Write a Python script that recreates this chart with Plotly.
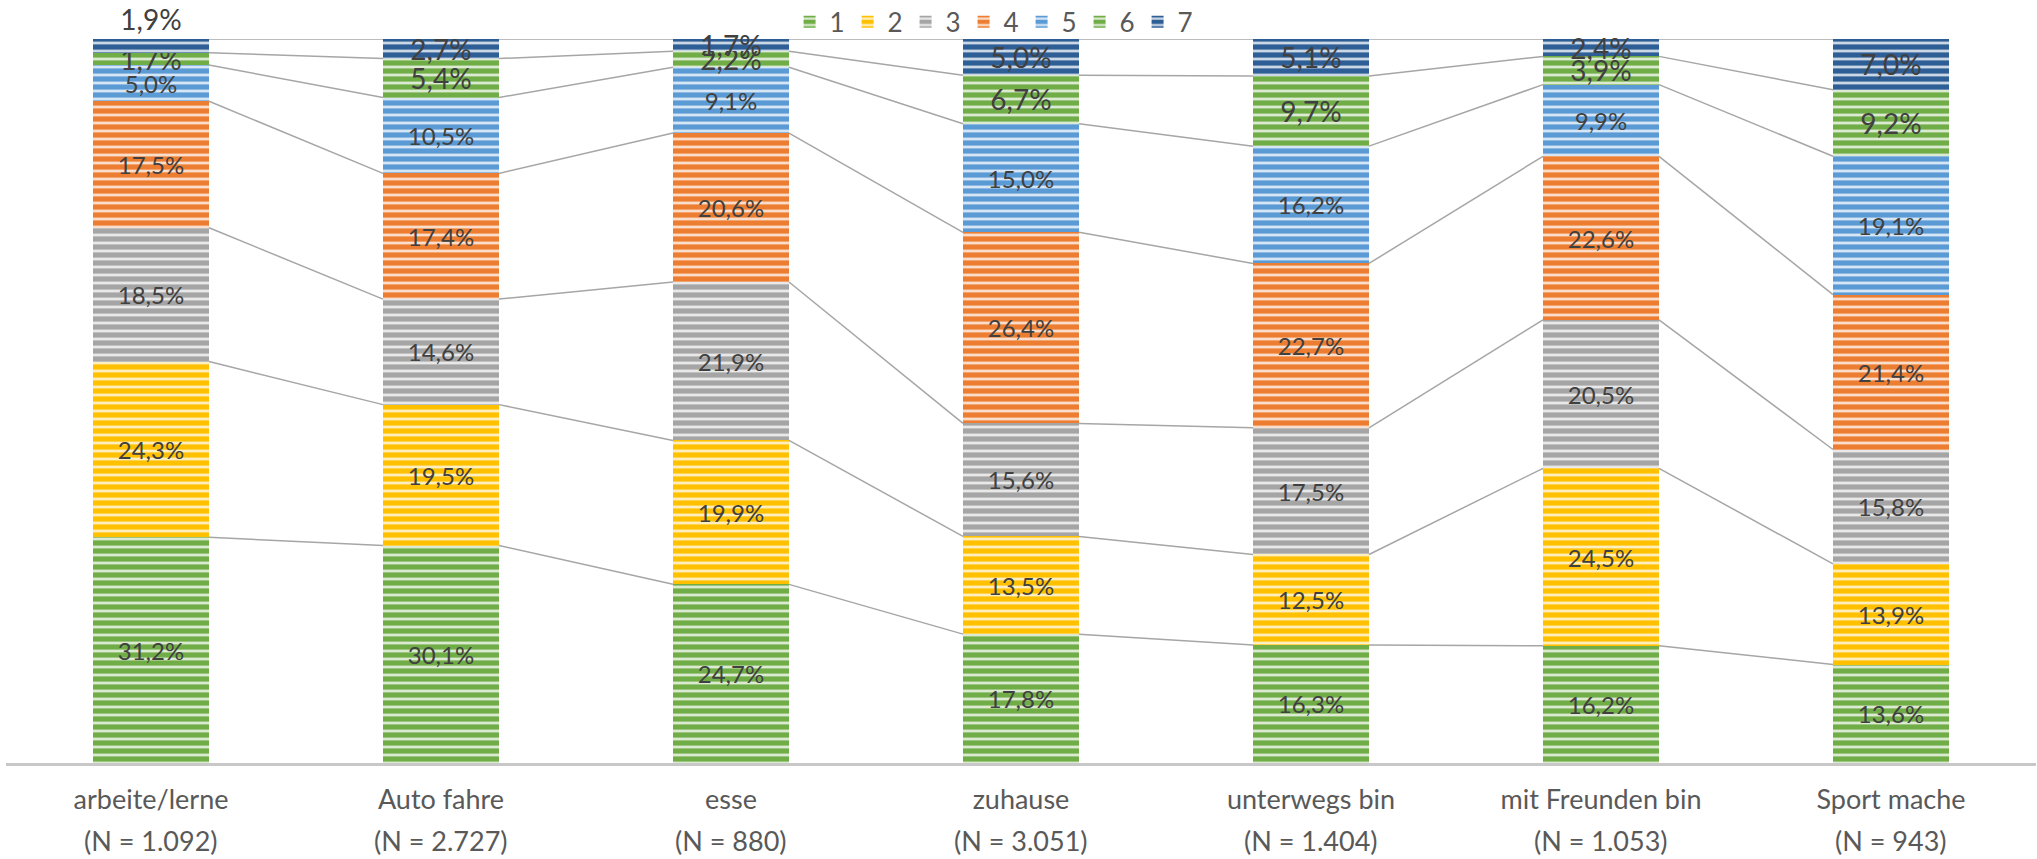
import plotly.graph_objects as go

# --- Data ---
categories = [
    "arbeite/lerne", "Auto fahre", "esse", "zuhause",
    "unterwegs bin", "mit Freunden bin", "Sport mache",
]
n_labels = [
    "(N = 1.092)", "(N = 2.727)", "(N = 880)", "(N = 3.051)",
    "(N = 1.404)", "(N = 1.053)", "(N = 943)",
]
series_names = ["1", "2", "3", "4", "5", "6", "7"]

s1 = [31.2, 30.1, 24.7, 17.8, 16.3, 16.2, 13.6]
s2 = [24.3, 19.5, 19.9, 13.5, 12.5, 24.5, 13.9]
s3 = [18.5, 14.6, 21.9, 15.6, 17.5, 20.5, 15.8]
s4 = [17.5, 17.4, 20.6, 26.4, 22.7, 22.6, 21.4]
s5 = [5.0, 10.5, 9.1, 15.0, 16.2, 9.9, 19.1]
s6 = [1.7, 5.4, 2.2, 6.7, 9.7, 3.9, 9.2]
s7 = [1.9, 2.7, 1.7, 5.0, 5.1, 2.4, 7.0]
series = [s1, s2, s3, s4, s5, s6, s7]

colors = ["#70AD47", "#FFC000", "#A5A5A5", "#ED7D31", "#5B9BD5", "#70AD47", "#2E5E96"]

BAR_W = 0.4
x = list(range(len(categories)))

fig = go.Figure()

for i, (name, vals, col) in enumerate(zip(series_names, series, colors)):
    big = i >= 5
    if i == 6:
        pos = ["outside"] + ["inside"] * (len(vals) - 1)
    else:
        pos = "inside"
    fig.add_trace(go.Bar(
        x=x, y=vals, name=name, width=BAR_W,
        marker=dict(
            color=col, line=dict(width=0),
            pattern=dict(shape="-", fillmode="overlay", fgcolor="white",
                         fgopacity=0.75, size=8, solidity=0.35),
        ),
        text=[f"{v:.1f}%".replace(".", ",") for v in vals],
        textposition=pos,
        insidetextanchor="middle",
        constraintext="none",
        cliponaxis=False,
        textfont=dict(size=28 if big else 24, color="#404040"),
        outsidetextfont=dict(size=28, color="#404040"),
        hoverinfo="skip",
    ))

# series lines between neighbouring bars (normalised cumulative tops)
totals = [sum(s[j] for s in series) for j in x]
lx, ly = [], []
for j in range(len(x) - 1):
    c0 = c1 = 0.0
    for s in series:
        c0 += s[j]
        c1 += s[j + 1]
        lx += [j + BAR_W / 2, j + 1 - BAR_W / 2, None]
        ly += [c0 / totals[j] * 100, c1 / totals[j + 1] * 100, None]

fig.add_trace(go.Scatter(
    x=lx, y=ly, mode="lines", showlegend=False, hoverinfo="skip",
    line=dict(color="#A6A6A6", width=1.5),
))

# second line of the category labels
for xi, lab in zip(x, n_labels):
    fig.add_annotation(
        x=xi, xref="x", y=0, yref="paper", yanchor="middle", yshift=-77,
        text=lab, showarrow=False, font=dict(size=27, color="#595959"),
    )

fig.update_layout(
    barmode="stack",
    barnorm="percent",
    width=2037, height=859,
    margin=dict(l=6, r=1, t=39, b=96, autoexpand=False),
    paper_bgcolor="white", plot_bgcolor="white",
    font=dict(family="Lato, sans-serif", color="#595959"),
    legend=dict(
        orientation="h", x=0.486, xanchor="center", y=1.056, yanchor="top",
        font=dict(size=26, color="#595959"), traceorder="normal",
        itemwidth=30, entrywidth=13, tracegroupgap=0,
        bgcolor="rgba(0,0,0,0)",
    ),
)
fig.update_xaxes(
    range=[-0.5, 6.5], tickvals=x, ticktext=categories,
    showline=True, linecolor="#C8C8C8", linewidth=3,
    showgrid=False, zeroline=False, ticks="",
    tickfont=dict(size=27, color="#595959"),
    ticklabelstandoff=11,
)
fig.update_yaxes(range=[0, 100], visible=False)

fig.write_html("out.html", config={"displayModeBar": False},
               post_script="document.body.style.margin='0';")
